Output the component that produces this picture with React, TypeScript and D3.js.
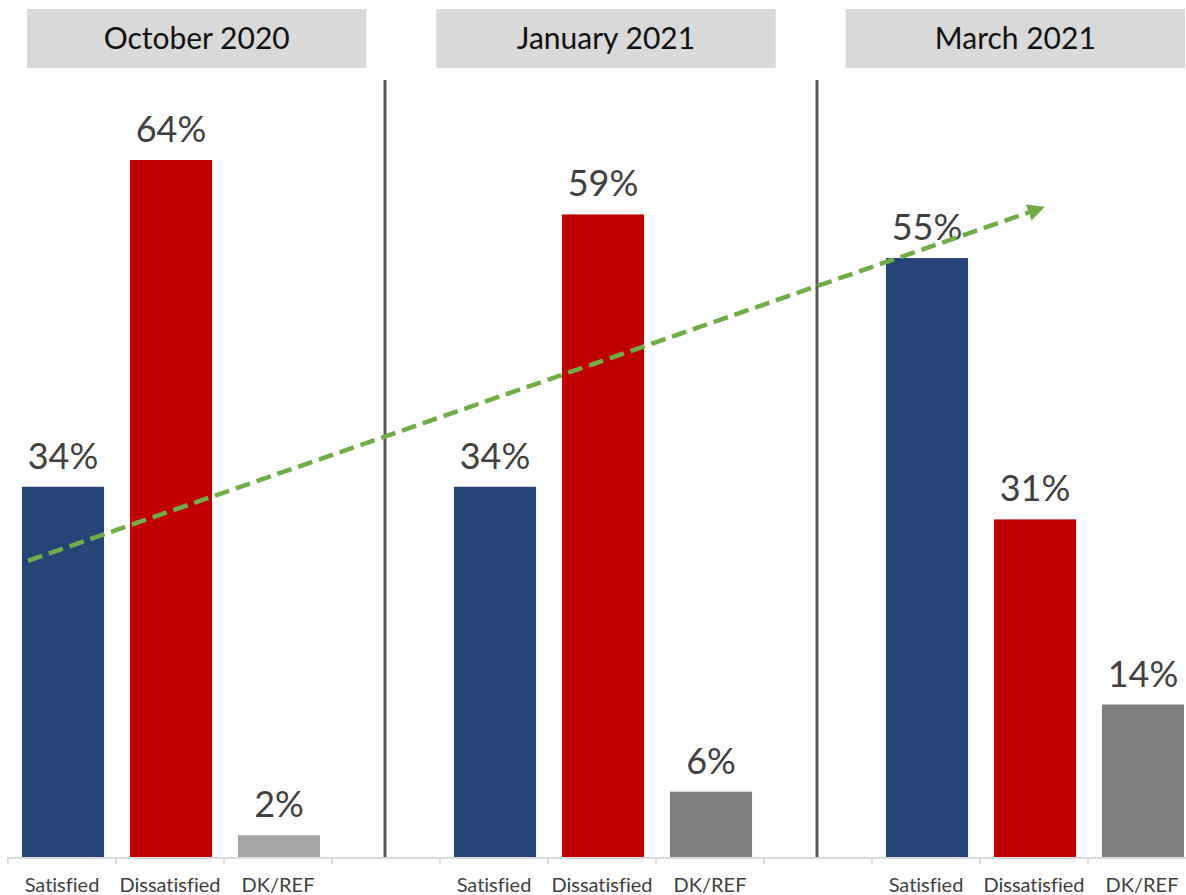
import React from "react";
import * as d3 from "d3";

const periods = ["October 2020", "January 2021", "March 2021"];
const responses = ["Satisfied", "Dissatisfied", "DK/REF"];
const satisfied = [34, 34, 55];
const dissatisfied = [64, 59, 31];
const dkref = [2, 6, 14];
const valueLabels = ["Satisfied", "Dissatisfied", "DK/REF"];
// trend arrow anchors: [slot index, fraction within slot, value]
const trendStart = [0, 0.185, 27.2];
const trendEnd = [9, 0.6, 59.7];

const W = 1186;
const H = 895;

export default function App() {
  const slots: { key: string; period: number; resp: number }[] = [];
  periods.forEach((p, pi) => {
    responses.forEach((r, ri) => slots.push({ key: `${pi}-${ri}`, period: pi, resp: ri }));
    if (pi < periods.length - 1) slots.push({ key: `gap-${pi}`, period: pi, resp: -1 });
  });
  const slotKeys = slots.map((s) => s.key);

  const xSlot = d3.scaleBand<string>().domain(slotKeys).range([8, 8 + 108 * 11]).padding(0);
  const xBar = d3.scaleBand<string>().domain(slotKeys).range([8, 8 + 108 * 11]).paddingInner(0.24).paddingOuter(0.12);
  const y = d3.scaleLinear().domain([0, 64]).range([857, 160]);
  const xHead = d3.scaleBand<string>().domain(periods).range([27, 1185]).paddingInner(0.171).paddingOuter(0);

  const series = [satisfied, dissatisfied, dkref];
  const colors = ["#264478", "#c00000", "#808080"];
  const colorFor = (pi: number, ri: number) => (ri === 2 && pi === 0 ? "#a5a5a5" : colors[ri]);

  const step = xSlot.step();
  const baseY = y(0);
  const tickXs = d3.range(12).map((i) => 8 + i * step);

  const sx = 8 + trendStart[0] * step + trendStart[1] * step;
  const sy = y(trendStart[2]);
  const ex = 8 + trendEnd[0] * step + trendEnd[1] * step;
  const ey = y(trendEnd[2]);
  const ang = Math.atan2(ey - sy, ex - sx);
  const headLen = 17;
  const headHalf = 8.5;
  const bx = ex - headLen * Math.cos(ang);
  const by = ey - headLen * Math.sin(ang);
  const px = -Math.sin(ang) * headHalf;
  const py = Math.cos(ang) * headHalf;
  const head = `M${ex},${ey}L${bx + px},${by + py}L${bx - px},${by - py}Z`;

  const font = "Lato, 'Open Sans', sans-serif";
  const gapSlots = slots.filter((s) => s.resp === -1);
  const noLig = { fontVariantLigatures: "none", fontFeatureSettings: '"liga" 0, "clig" 0' } as React.CSSProperties;

  return (
    <svg width={W} height={H} style={{ position: "absolute", left: 0, top: 0, ...noLig }} fontFamily={font}>
      <rect x={0} y={0} width={W} height={H} fill="#ffffff" />
      {periods.map((p) => (
        <g key={p}>
          <rect x={xHead(p)} y={9} width={xHead.bandwidth()} height={59} fill="#d9d9d9" />
          <text x={(xHead(p) as number) + xHead.bandwidth() / 2} y={49} textAnchor="middle" fontSize={30} fill="#111">
            {p}
          </text>
        </g>
      ))}
      {gapSlots.map((s) => (
        <line
          key={s.key}
          x1={(xSlot(s.key) as number) + step / 2 - 1}
          x2={(xSlot(s.key) as number) + step / 2 - 1}
          y1={80}
          y2={baseY}
          stroke="#595959"
          strokeWidth={3}
        />
      ))}
      {slots
        .filter((s) => s.resp >= 0)
        .map((s) => {
          const v = series[s.resp][s.period];
          const x0 = xBar(s.key) as number;
          const bw = xBar.bandwidth();
          return (
            <g key={s.key}>
              <rect x={x0 + 1} y={y(v)} width={bw} height={baseY - y(v)} fill={colorFor(s.period, s.resp)} />
              <text x={x0 + 1 + bw / 2} y={y(v) - 18} textAnchor="middle" fontSize={36} fill="#404040">
                {v}%
              </text>
              <text
                x={(xSlot(s.key) as number) + step / 2}
                y={892}
                textAnchor="middle"
                fontSize={20}
                fill="#404040"
                style={noLig}
              >
                {valueLabels[s.resp]}
              </text>
            </g>
          );
        })}
      <line x1={8} x2={W} y1={baseY + 1} y2={baseY + 1} stroke="#d9d9d9" strokeWidth={2} />
      {tickXs.map((tx, i) => (
        <line key={i} x1={tx} x2={tx} y1={baseY} y2={baseY + 7} stroke="#d9d9d9" strokeWidth={2} />
      ))}
      <line x1={sx} y1={sy} x2={bx} y2={by} stroke="#70ad47" strokeWidth={4.5} strokeDasharray="15 7" />
      <path d={head} fill="#70ad47" />
    </svg>
  );
}
